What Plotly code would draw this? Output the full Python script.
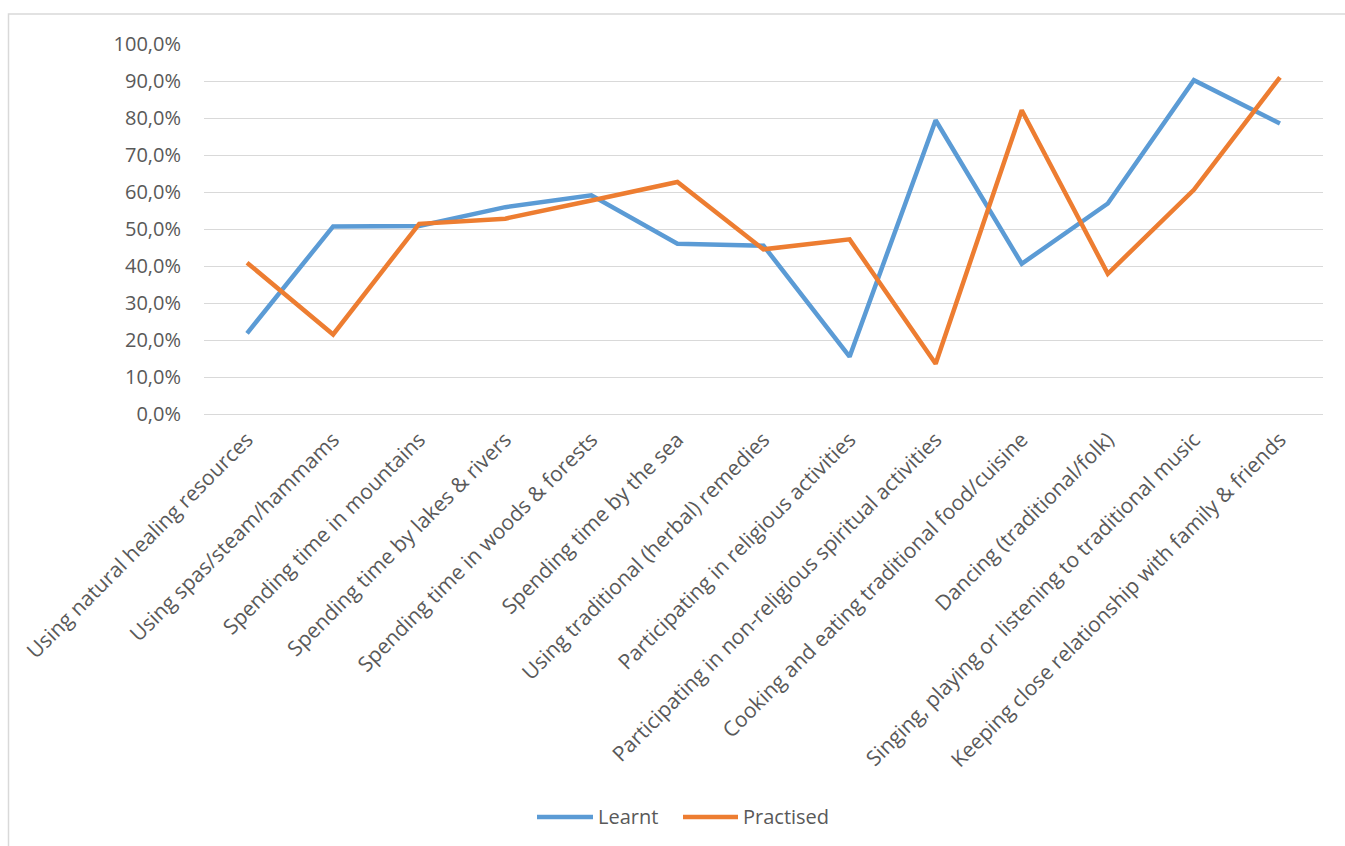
import plotly.graph_objects as go

# Activities (category axis)
categories = [
    "Using natural healing resources",
    "Using spas/steam/hammams",
    "Spending time in mountains",
    "Spending time by lakes & rivers",
    "Spending time in woods & forests",
    "Spending time by the sea",
    "Using traditional (herbal) remedies",
    "Participating in religious activities",
    "Participating in non-religious spiritual activities",
    "Cooking and eating traditional food/cuisine",
    "Dancing (traditional/folk)",
    "Singing, playing or listening to traditional music",
    "Keeping close relationship with family & friends",
]

# Share of respondents (%)
learnt = [21.8, 50.7, 50.8, 55.9, 59.1, 46.0, 45.5, 15.5, 79.4, 40.6, 56.9, 90.2, 78.5]
practised = [40.9, 21.5, 51.4, 52.8, 57.7, 62.7, 44.5, 47.2, 13.6, 82.1, 37.9, 60.6, 91.0]

series_names = ["Learnt", "Practised"]
BLUE = "#5B9BD5"
ORANGE = "#ED7D31"
TEXT = "#595959"
GRID = "#D9D9D9"
FONT = "Open Sans"
LW = 4.5

fig = go.Figure()
for name, vals, col in zip(series_names, [learnt, practised], [BLUE, ORANGE]):
    fig.add_trace(go.Scatter(x=categories, y=vals, mode="lines", name=name,
                             line=dict(color=col, width=LW), showlegend=False))

# plot area geometry in pixels (used to place frame and legend)
L, R, T, B = 204, 22, 44, 432
W, H = 1345, 846
pw, ph = W - L - R, H - T - B

def px_x(x):
    return (x - L) / pw

def px_y(y):
    return (H - B - y) / ph

# legend drawn as line swatches + labels below the axis labels
legend_y = 817
legend_items = [(series_names[0], BLUE, 537, 593), (series_names[1], ORANGE, 683, 738)]
shapes = [
    dict(type="path", xref="paper", yref="paper",
         path=f"M {px_x(8.5)},{px_y(860)} L {px_x(8.5)},{px_y(14)} L {px_x(1360)},{px_y(14)}",
         line=dict(color=GRID, width=1.5)),
]
annotations = []
for name, col, x0, x1 in legend_items:
    shapes.append(dict(type="line", xref="paper", yref="paper",
                       x0=px_x(x0), x1=px_x(x1), y0=px_y(legend_y), y1=px_y(legend_y),
                       line=dict(color=col, width=LW)))
    annotations.append(dict(xref="paper", yref="paper", x=px_x(x1 + 3), y=px_y(legend_y),
                            xanchor="left", yanchor="middle", showarrow=False,
                            text=name, font=dict(size=20, color=TEXT, family=FONT)))

fig.update_layout(
    width=W, height=H,
    margin=dict(l=L, r=R, t=T, b=B, pad=0),
    paper_bgcolor="white", plot_bgcolor="white",
    font=dict(family=FONT, color=TEXT, size=20),
    separators=",.",
    showlegend=False,
    xaxis=dict(
        type="category", range=[-0.5, len(categories) - 0.5],
        tickangle=-45, showgrid=False, zeroline=False,
        showline=True, linecolor=GRID, linewidth=1,
        ticks="", tickfont=dict(size=21, color=TEXT),
        ticklabelstandoff=4,
    ),
    yaxis=dict(
        range=[0, 100], dtick=10, tick0=0,
        tickformat=".1f", ticksuffix="%",
        showgrid=True, gridcolor=GRID, gridwidth=1,
        zeroline=False, showline=False, ticks="",
        ticklabelstandoff=22,
        tickfont=dict(size=20, color=TEXT),
    ),
    shapes=shapes,
    annotations=annotations,
)

fig.write_html("out.html")
